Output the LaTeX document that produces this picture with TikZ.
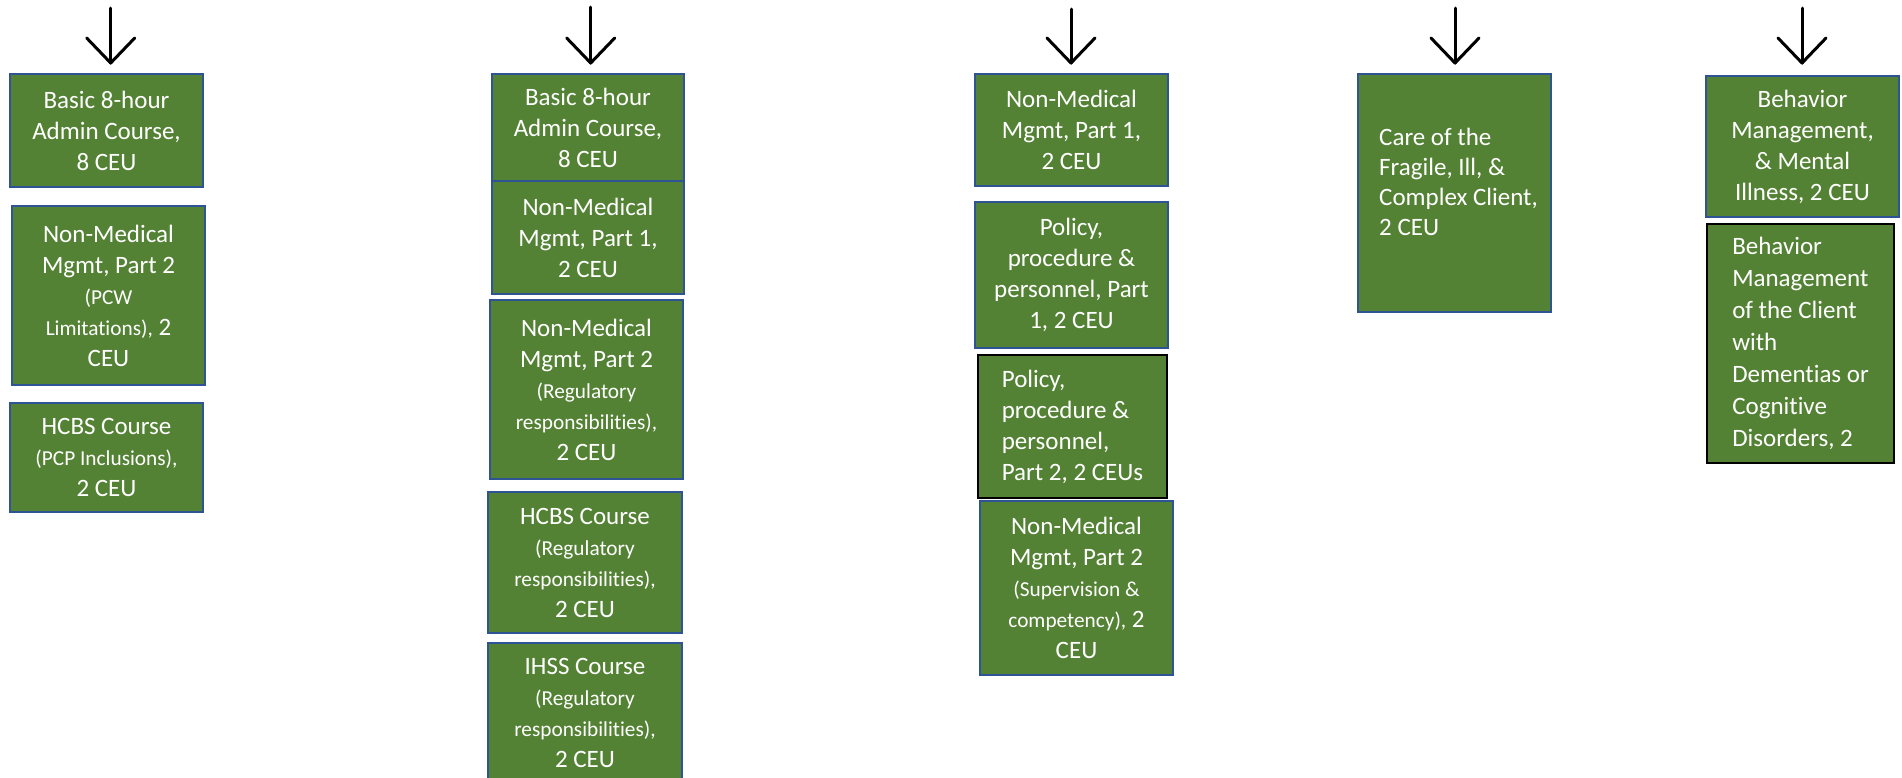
\documentclass[tikz,border=0pt]{standalone}
\usepackage{fontspec}
\setmainfont{Carlito}[Ligatures=NoCommon]
\definecolor{boxgreen}{HTML}{548235}
\definecolor{boxblue}{HTML}{2F5496}
\newcommand\sm{\fontsize{21.3}{28}\selectfont}
\begin{document}
\begin{tikzpicture}[x=1pt,y=-1pt,
  box/.style={draw=boxblue, fill=boxgreen, line width=2pt, inner sep=0pt,
    text=white, font=\fontsize{25}{31}\selectfont, align=center},
  boxk/.style={box, draw=black, align=left},
  txt/.style={text=white, font=\fontsize{25}{30}\selectfont, align=left, inner sep=0pt},
  arr/.style={line width=3pt, line join=round, line cap=round}]
\clip (0,0) rectangle (1902,777);
\fill[white] (0,0) rectangle (1902,777);
% arrows
\foreach \n/\x/\t in {1/110.7/8, 2/590.7/7, 3/1071/9, 4/1455/8, 5/1802/8}{
  \coordinate (s\n) at (\x,\t);
  \coordinate (e\n) at (\x,63);
  \draw[arr] (s\n) -- (e\n);
  \draw[arr] ([xshift=-24pt,yshift=25pt]e\n) -- (e\n) -- ([xshift=24pt,yshift=25pt]e\n);
}
% column 1
\node[box, minimum width=193pt, minimum height=113pt] (c1a) at (106.5,130.5)
  {Basic 8-hour\\Admin Course,\\8 CEU};
\node[box, minimum width=193pt, minimum height=179pt] (c1b) at (108.5,295.5)
  {Non-Medical\\Mgmt, Part 2\\{\sm (PCW}\\{\sm Limitations),} 2\\CEU};
\node[box, minimum width=193pt, minimum height=109pt] (c1c) at (106.5,457.5)
  {HCBS Course\\{\sm (PCP Inclusions),}\\2 CEU};
% column 2
\node[box, minimum width=192pt, minimum height=107pt] (c2a) at (588,127.5)
  {Basic 8-hour\\Admin Course,\\8 CEU};
\node[box, minimum width=192pt, minimum height=113pt] (c2b) at (588,237.5)
  {Non-Medical\\Mgmt, Part 1,\\2 CEU};
\node[box, minimum width=193pt, minimum height=179pt] (c2c) at (586.5,389.5)
  {Non-Medical\\Mgmt, Part 2\\{\sm (Regulatory}\\{\sm responsibilities),}\\2 CEU};
\node[box, minimum width=194pt, minimum height=141pt] (c2d) at (585,562.5)
  {HCBS Course\\{\sm (Regulatory}\\{\sm responsibilities),}\\2 CEU};
\node[box, minimum width=194pt, minimum height=140pt] (c2e) at (585,713)
  {IHSS Course\\{\sm (Regulatory}\\{\sm responsibilities),}\\2 CEU};
% column 3
\node[box, minimum width=193pt, minimum height=112pt] (c3a) at (1071.5,130)
  {Non-Medical\\Mgmt, Part 1,\\2 CEU};
\node[box, minimum width=193pt, minimum height=146pt] (c3b) at (1071.5,275)
  {Policy,\\procedure \&\\personnel, Part\\1, 2 CEU};
\node[boxk, minimum width=189pt, minimum height=143pt] (c3c) at (1072.5,426.5)
  {Policy,\\procedure \&\\personnel,\\Part 2, 2 CEUs};
\node[box, minimum width=193pt, minimum height=174pt] (c3d) at (1076.5,588)
  {Non-Medical\\Mgmt, Part 2\\{\sm (Supervision \&}\\{\sm competency),} 2\\CEU};
% column 4
\node[box, minimum width=193pt, minimum height=238pt] (c4a) at (1454.5,193) {};
\node[txt, anchor=west] (c4t) at (1379,182)
  {Care of the\\Fragile, Ill, \&\\Complex Client,\\2 CEU};
% column 5
\node[box, minimum width=193pt, minimum height=141pt] (c5a) at (1802.5,146.5)
  {Behavior\\Management,\\\& Mental\\Illness, 2 CEU};
\node[boxk, minimum width=187pt, minimum height=239pt,
  font=\fontsize{25}{32}\selectfont] (c5b) at (1800.5,343.5)
  {Behavior\\Management\\of the Client\\with\\Dementias or\\Cognitive\\Disorders, 2};
\end{tikzpicture}
\end{document}
